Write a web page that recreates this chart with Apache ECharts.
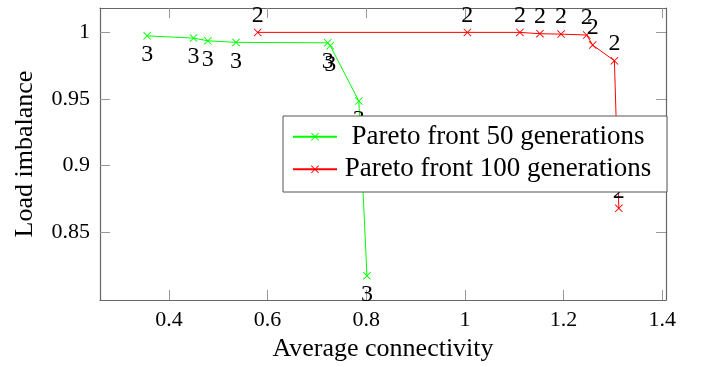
<!DOCTYPE html>
<html>
<head>
<meta charset="utf-8">
<script src="https://cdn.jsdelivr.net/npm/echarts@6/dist/echarts.min.js"></script>
<style>html,body{margin:0;padding:0;background:#fff}#c{width:705px;height:367px}</style>
</head>
<body>
<div id="c"></div>
<script>
const xTicks = [0.4, 0.6, 0.8, 1, 1.2, 1.4];
const yTicks = [0.85, 0.9, 0.95, 1];
const greenName = 'Pareto front 50 generations';
const greenX = [0.356, 0.450, 0.479, 0.536, 0.722, 0.727, 0.785, 0.8015];
const greenY = [0.9974, 0.9957, 0.9937, 0.9925, 0.9922, 0.990, 0.9485, 0.8174];
const greenTags = [3, 3, 3, 3, 3, 3, 3, 3];
const redName = 'Pareto front 100 generations';
const redX = [0.580, 1.005, 1.1115, 1.152, 1.195, 1.247, 1.259, 1.303, 1.312];
const redY = [1.0, 1.0, 1.0, 0.999, 0.9987, 0.998, 0.9905, 0.9787, 0.868];
const redTags = [2, 2, 2, 2, 2, 2, 2, 2, 2];
const xName = 'Average connectivity';
const yName = 'Load imbalance';

const FONT = "'Liberation Serif', 'Times New Roman', serif";
const CROSS = 'path://M0,0.8L0.8,0L5,4.2L9.2,0L10,0.8L5.8,5L10,9.2L9.2,10L5,5.8L0.8,10L0,9.2L4.2,5Z';
const XMIN = 0.2604, XMAX = 1.4076, YMIN = 0.7992, YMAX = 1.0183;

function zip(xs, ys, tags) { return xs.map((x, i) => ({ value: [x, ys[i]], tag: tags[i] })); }

const axisLine = { show: true, lineStyle: { color: '#666', width: 1.2 } };
const tickStyle = { show: true, inside: true, length: 10, lineStyle: { color: '#999', width: 1 } };

const chart = echarts.init(document.getElementById('c'), null, { renderer: 'canvas' });
chart.setOption({
  animation: false,
  grid: { left: 100, right: 39, top: 8, bottom: 67, containLabel: false },
  xAxis: [
    { type: 'value', min: XMIN, max: XMAX, position: 'bottom',
      name: xName, nameLocation: 'middle', nameGap: 30,
      nameTextStyle: { fontFamily: FONT, fontSize: 26, color: '#000' },
      axisLine: axisLine, splitLine: { show: false },
      axisTick: Object.assign({ customValues: xTicks }, tickStyle),
      axisLabel: { customValues: xTicks, fontFamily: FONT, fontSize: 22, color: '#000', margin: 9 } },
    { type: 'value', min: XMIN, max: XMAX, position: 'top',
      axisLine: axisLine, splitLine: { show: false },
      axisTick: Object.assign({ customValues: xTicks }, tickStyle),
      axisLabel: { show: false } }
  ],
  yAxis: [
    { type: 'value', min: YMIN, max: YMAX, position: 'left',
      name: yName, nameLocation: 'middle', nameGap: 62, nameRotate: 90,
      nameTextStyle: { fontFamily: FONT, fontSize: 26, color: '#000' },
      axisLine: axisLine, splitLine: { show: false },
      axisTick: Object.assign({ customValues: yTicks }, tickStyle),
      axisLabel: { customValues: yTicks, fontFamily: FONT, fontSize: 22, color: '#000', margin: 10 } },
    { type: 'value', min: YMIN, max: YMAX, position: 'right',
      axisLine: axisLine, splitLine: { show: false },
      axisTick: Object.assign({ customValues: yTicks }, tickStyle),
      axisLabel: { show: false } }
  ],
  legend: {
    orient: 'vertical', left: 283, top: 116, padding: [5.7, 13, 7.7, 9],
    itemWidth: 44, itemHeight: 10, itemGap: 2.6,
    borderColor: '#555', borderWidth: 1, backgroundColor: '#fff',
    selectedMode: false,
    data: [greenName, redName],
    formatter: n => '{c|' + n + '}',
    textStyle: { fontFamily: FONT, fontSize: 27, color: '#000',
      rich: { c: { width: 312, height: 30, align: 'center', fontFamily: FONT, fontSize: 27, lineHeight: 30, color: '#000' } } }
  },
  series: [
    { name: greenName, type: 'line', data: zip(greenX, greenY, greenTags),
      symbol: CROSS, symbolSize: 8, showAllSymbol: true, clip: true,
      lineStyle: { color: '#00ff00', width: 1 }, itemStyle: { color: '#00ff00' },
      label: { show: true, position: 'bottom', distance: 3, formatter: p => String(p.data.tag),
        fontFamily: FONT, fontSize: 24, color: '#000' } },
    { name: redName, type: 'line', data: zip(redX, redY, redTags),
      symbol: CROSS, symbolSize: 8, showAllSymbol: true, clip: true,
      lineStyle: { color: '#ff0000', width: 1 }, itemStyle: { color: '#ff0000' },
      label: { show: true, position: 'top', distance: 1, formatter: p => String(p.data.tag),
        fontFamily: FONT, fontSize: 24, color: '#000' } }
  ]
});
</script>
</body>
</html>
